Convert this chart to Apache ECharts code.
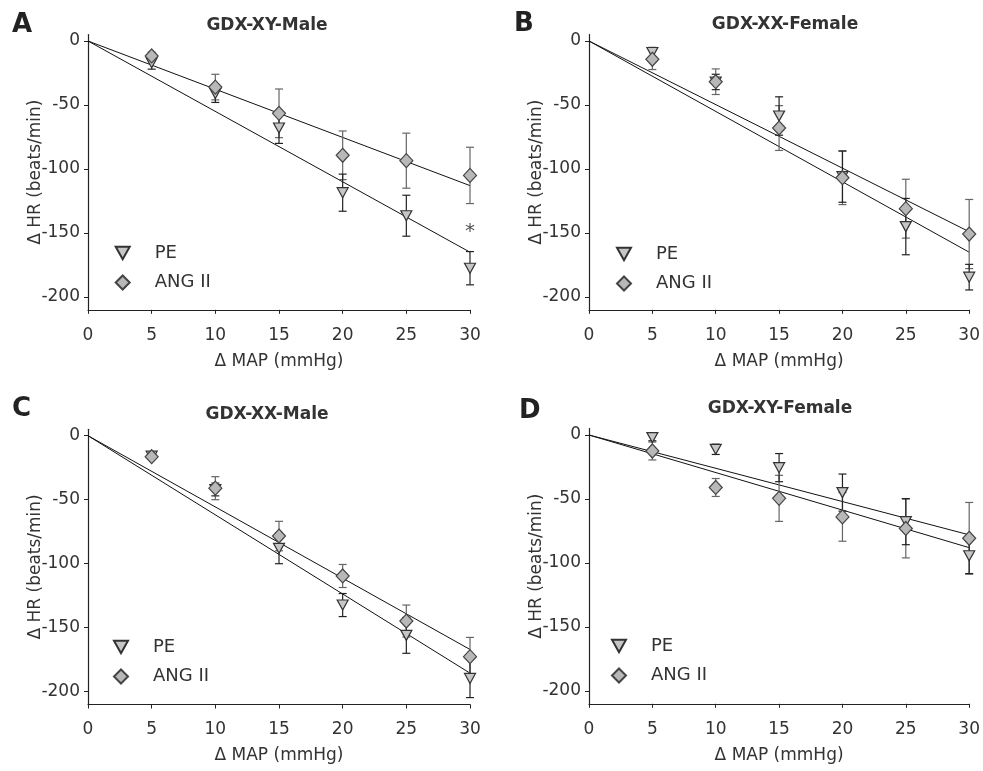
<!DOCTYPE html>
<html><head><meta charset="utf-8">
<script src="https://cdn.jsdelivr.net/npm/echarts@6/dist/echarts.min.js"></script>
<style>html,body{margin:0;padding:0;background:#fff}#c{width:983px;height:771px}</style>
</head><body><div id="c"></div>
<script>
// ---- data ----
const xValues = [5, 10, 15, 20, 25, 30];
const xTicks = [0, 5, 10, 15, 20, 25, 30];
const yTicks = [0, -50, -100, -150, -200];
const panelLetters = ['A', 'B', 'C', 'D'];
const panelTitles = ['GDX-XY-Male', 'GDX-XX-Female', 'GDX-XX-Male', 'GDX-XY-Female'];
const seriesNames = ['PE', 'ANG II'];

// Panel A: GDX-XY-Male
const peA = [-17, -41, -68, -118.5, -136.5, -177.5];
const peErrA = [5, 7, 12, 14.5, 16, 13];
const angA = [-11.7, -36, -56.5, -89.3, -93.5, -105];
const angErrA = [3, 10, 19, 19, 21.5, 22];
// Panel B: GDX-XX-Female
const peB = [-9, -32, -58.6, -106, -145, -184.5];
const peErrB = [4, 6, 15, 20, 22, 10];
const angB = [-14.3, -31.8, -68, -106.8, -131, -150.8];
const angErrB = [8, 10, 17.5, 21, 23, 27];
// Panel C: GDX-XX-Male
const peC = [-16, -42, -88, -132.3, -156, -189.6];
const peErrC = [2, 5, 12, 9, 14, 15];
const angC = [-16.4, -41, -78.4, -109.6, -144.8, -172.6];
const angErrC = [2, 9, 11.5, 9, 12.5, 15];
// Panel D: GDX-XY-Female
const peD = [-2, -11.2, -25.5, -45, -67.7, -94.3];
const peErrD = [2.5, 4, 11, 14.5, 18, 14];
const angD = [-12.5, -41, -49.5, -64, -73, -80.7];
const angErrD = [7, 7, 18, 19, 23, 28];

// regression lines through origin: value at x = 30
const fitPE = [-165, -165, -185.5, -78];
const fitANG = [-113, -149, -167, -88];

// significance mark (panel A, x = 30)
const starPoint = [30, -149];

// ---- layout / style ----
const FONT = "'DejaVu Sans', sans-serif";
const TXT = '#333';
const grids = [
  {left: 88, top: 34.6, width: 382, height: 275.2},
  {left: 589, top: 34.6, width: 382, height: 275.2},
  {left: 88, top: 429.3, width: 382, height: 275.2},
  {left: 589, top: 428.6, width: 382, height: 275.2}
];
const letterPos = [[12, 12], [514, 11], [12, 396], [519, 398]];
const titlePos = [[267, 17], [785, 16], [267, 406], [780, 400]];
const legendPos = [[114.7, 244], [616, 245], [113, 638], [611, 637]];

const peAll = [peA, peB, peC, peD];
const peErrAll = [peErrA, peErrB, peErrC, peErrD];
const angAll = [angA, angB, angC, angD];
const angErrAll = [angErrA, angErrB, angErrC, angErrD];

const triDown = 'path://M0,0 L10,0 L5,9 Z';

function errRender(params, api) {
  const x = api.value(0), y = api.value(1), e = api.value(2);
  const top = api.coord([x, y + e]);
  const bot = api.coord([x, y - e]);
  const w = 4;
  const style = {stroke: api.visual('color'), lineWidth: 1.2};
  return {type: 'group', children: [
    {type: 'line', shape: {x1: top[0], y1: top[1], x2: bot[0], y2: bot[1]}, style: style},
    {type: 'line', shape: {x1: top[0] - w, y1: top[1], x2: top[0] + w, y2: top[1]}, style: style},
    {type: 'line', shape: {x1: bot[0] - w, y1: bot[1], x2: bot[0] + w, y2: bot[1]}, style: style}
  ]};
}

const xAxes = [], yAxes = [], series = [], titles = [], legends = [];
for (let i = 0; i < 4; i++) {
  xAxes.push({
    gridIndex: i, type: 'value', min: xTicks[0], max: xTicks[xTicks.length - 1], interval: 5,
    axisLine: {onZero: false, lineStyle: {color: '#222', width: 1.2}},
    axisTick: {length: 4, lineStyle: {color: '#222'}},
    splitLine: {show: false},
    axisLabel: {fontSize: 17, color: TXT, fontFamily: FONT, margin: 17},
    name: '\u0394 MAP (mmHg)', nameLocation: 'middle', nameGap: 43,
    nameTextStyle: {fontSize: 17, color: TXT, fontFamily: FONT}
  });
  yAxes.push({
    gridIndex: i, type: 'value', min: -210, max: 5,
    axisLine: {onZero: false, lineStyle: {color: '#222', width: 1.2}},
    axisTick: {length: 4, customValues: yTicks, lineStyle: {color: '#222'}},
    splitLine: {show: false},
    axisLabel: {fontSize: 17, color: TXT, fontFamily: FONT, margin: 8, customValues: yTicks},
    name: '\u0394 HR (beats/min)', nameLocation: 'middle', nameGap: 44, nameMoveOverlap: false,
    nameTextStyle: {fontSize: 17, color: TXT, fontFamily: FONT}
  });
  titles.push({
    text: panelLetters[i], left: letterPos[i][0], top: letterPos[i][1], padding: 0,
    textStyle: {fontSize: 26, fontWeight: 'bold', color: '#222', fontFamily: FONT}
  });
  titles.push({
    text: panelTitles[i], left: titlePos[i][0], top: titlePos[i][1], padding: 0, textAlign: 'center',
    textStyle: {fontSize: 17, fontWeight: 'bold', color: TXT, fontFamily: FONT}
  });
  legends.push({
    data: seriesNames, orient: 'vertical', left: legendPos[i][0], top: legendPos[i][1],
    padding: 0, itemWidth: 14, itemHeight: 14, itemGap: 11.5, selectedMode: false,
    textStyle: {fontSize: 18, color: TXT, fontFamily: FONT, lineHeight: 18, padding: [0, 0, 0, 20]}
  });

  series.push({
    name: 'PE fit', type: 'line', xAxisIndex: i, yAxisIndex: i, silent: true,
    data: [[0, 0], [30, fitPE[i]]], symbol: 'none', z: 2,
    lineStyle: {color: '#111', width: 1}
  });
  series.push({
    name: 'ANG II fit', type: 'line', xAxisIndex: i, yAxisIndex: i, silent: true,
    data: [[0, 0], [30, fitANG[i]]], symbol: 'none', z: 2,
    lineStyle: {color: '#111', width: 1}
  });
  series.push({
    name: 'ANG II SEM', type: 'custom', xAxisIndex: i, yAxisIndex: i, silent: true,
    renderItem: errRender, encode: {x: 0, y: 1}, z: 3,
    itemStyle: {color: '#666'},
    data: xValues.map((x, j) => [x, angAll[i][j], angErrAll[i][j]])
  });
  series.push({
    name: 'PE SEM', type: 'custom', xAxisIndex: i, yAxisIndex: i, silent: true,
    renderItem: errRender, encode: {x: 0, y: 1}, z: 3,
    itemStyle: {color: '#222'},
    data: xValues.map((x, j) => [x, peAll[i][j], peErrAll[i][j]])
  });
  series.push({
    name: 'PE', type: 'scatter', xAxisIndex: i, yAxisIndex: i, z: 4,
    symbol: triDown, symbolSize: [11, 10],
    itemStyle: {color: '#c6c6c6', borderColor: '#333', borderWidth: 1.2, opacity: 1},
    data: xValues.map((x, j) => [x, peAll[i][j]])
  });
  series.push({
    name: 'ANG II', type: 'scatter', xAxisIndex: i, yAxisIndex: i, z: 5,
    symbol: 'diamond', symbolSize: [13, 14],
    itemStyle: {color: '#b8b8b8', borderColor: '#444', borderWidth: 1.2, opacity: 1},
    data: xValues.map((x, j) => [x, angAll[i][j]])
  });
}
series.push({
  name: 'significance', type: 'scatter', xAxisIndex: 0, yAxisIndex: 0, silent: true,
  symbolSize: 1, itemStyle: {color: 'rgba(0,0,0,0)'},
  label: {show: true, position: 'inside', formatter: '*', fontSize: 20, color: '#222', fontFamily: FONT},
  data: [starPoint]
});

const chart = echarts.init(document.getElementById('c'), null, {renderer: 'canvas'});
chart.setOption({
  animation: false,
  backgroundColor: '#fff',
  title: titles,
  legend: legends,
  grid: grids,
  xAxis: xAxes,
  yAxis: yAxes,
  series: series
});
</script></body></html>
